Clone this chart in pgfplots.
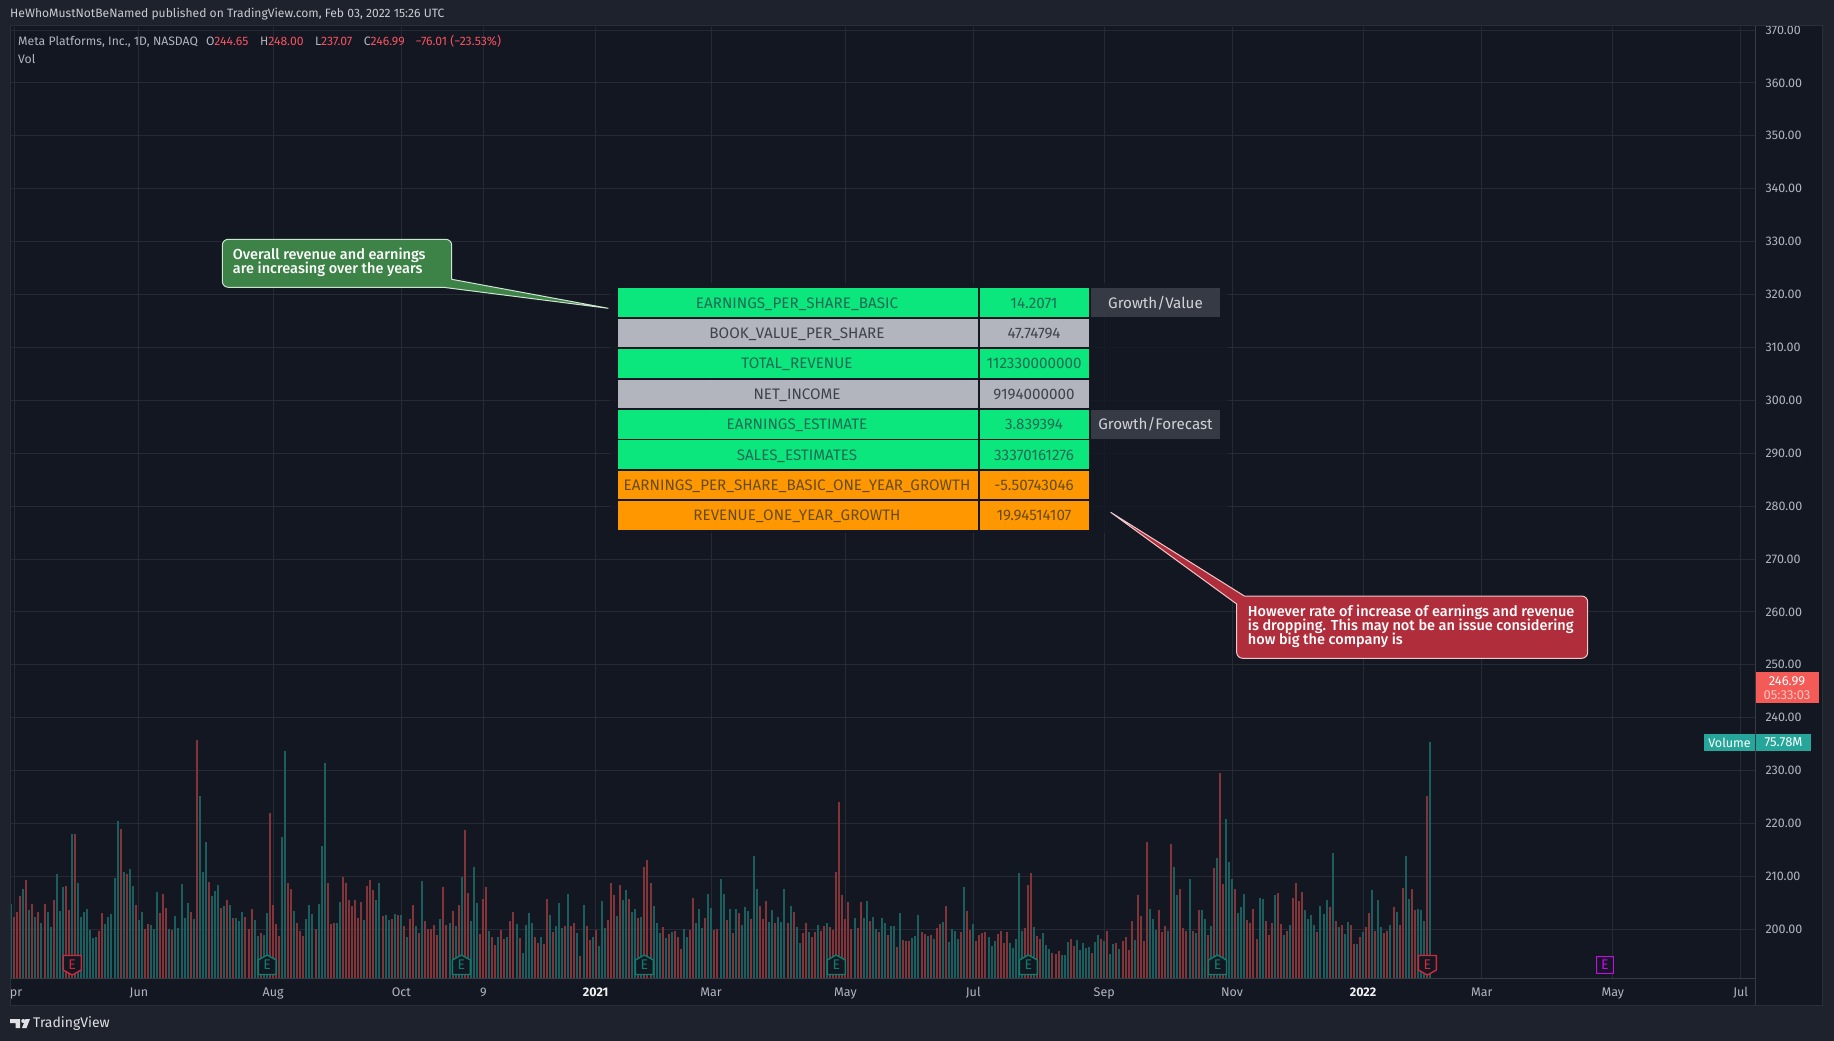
\documentclass[border=0pt]{standalone}
\usepackage{fontspec}
\setmainfont{Fira Sans}
\newfontfamily\fm{Fira Sans Medium}
\usepackage{pgfplots}
\usepackage{pgfplotstable}
\pgfplotsset{compat=1.18}
\definecolor{outer}{HTML}{1E222D}
\definecolor{pane}{HTML}{131722}
\definecolor{gridc}{HTML}{262A35}
\definecolor{border}{HTML}{2A2E39}
\definecolor{lab}{HTML}{B2B5BE}
\definecolor{redbar}{HTML}{813539}
\definecolor{tealbar}{HTML}{1C5E5E}
\definecolor{eg}{HTML}{0A7F6E}
\definecolor{er}{HTML}{D0283A}
\definecolor{em}{HTML}{D500F9}
\definecolor{cg}{HTML}{0BE67D}
\definecolor{cs}{HTML}{B2B5BE}
\definecolor{co}{HTML}{FF9800}
\definecolor{tg}{HTML}{1F6A52}
\definecolor{ts}{HTML}{40424A}
\definecolor{to}{HTML}{664C14}
\definecolor{lr}{HTML}{F7525F}
\definecolor{cellg}{HTML}{363A45}
\definecolor{gbox}{HTML}{3D8246}
\definecolor{gedge}{HTML}{CDE4D0}
\definecolor{rbox}{HTML}{B02E3C}
\definecolor{redge}{HTML}{EFC8CC}
\definecolor{plabel}{HTML}{F45B57}
\definecolor{vlabel}{HTML}{26A69A}
\pgfdeclareplotmark{eup}{%
  \pgfsetlinewidth{1.4pt}\pgfsetroundjoin
  \pgfpathmoveto{\pgfpoint{-9pt}{-9.5pt}}\pgfpathlineto{\pgfpoint{9pt}{-9.5pt}}%
  \pgfpathlineto{\pgfpoint{9pt}{5pt}}\pgfpathlineto{\pgfpoint{0pt}{10pt}}%
  \pgfpathlineto{\pgfpoint{-9pt}{5pt}}\pgfpathclose\pgfusepath{fill,stroke}%
  \pgftext{\color{eg}\fontsize{14}{14}\selectfont E}}
\pgfdeclareplotmark{edown}{%
  \pgfsetlinewidth{1.4pt}\pgfsetroundjoin
  \pgfpathmoveto{\pgfpoint{-9pt}{9.5pt}}\pgfpathlineto{\pgfpoint{9pt}{9.5pt}}%
  \pgfpathlineto{\pgfpoint{9pt}{-5pt}}\pgfpathlineto{\pgfpoint{0pt}{-10pt}}%
  \pgfpathlineto{\pgfpoint{-9pt}{-5pt}}\pgfpathclose\pgfusepath{fill,stroke}%
  \pgftext{\color{er}\fontsize{14}{14}\selectfont E}}
\pgfdeclareplotmark{esq}{%
  \pgfsetlinewidth{1.4pt}\pgfsetroundjoin
  \pgfpathrectangle{\pgfpoint{-8.5pt}{-8.5pt}}{\pgfpoint{17pt}{17pt}}\pgfusepath{fill,stroke}%
  \pgftext{\color{em}\fontsize{14}{14}\selectfont E}}
\pgfplotstableread[row sep=crcr]{
r t\\
nan 23.8\\ 19.6 nan\\ 21.2 nan\\ 26.3 nan\\ nan 28.6\\ 31.5 nan\\ nan 21.8\\ 23.8 nan\\ nan 19.6\\ 21.2 nan\\
nan 17.7\\ 23.8 nan\\ nan 21.2\\ nan 16.4\\ 25.0 nan\\ nan 33.4\\ nan 21.5\\ nan 29.2\\ 29.5 nan\\ 21.8 nan\\
nan 46.2\\ 46.2 nan\\ nan 30.5\\ nan 19.6\\ nan 21.2\\ nan 22.1\\ nan 15.4\\ nan 12.8\\ nan 13.2\\ 15.1 nan\\
20.9 nan\\ nan 17.3\\ nan 19.6\\ nan 20.5\\ nan 32.1\\ nan 50.4\\ 47.8 nan\\ nan 34.0\\ 33.4 nan\\ nan 35.0\\
nan 29.5\\ 23.4 nan\\ nan 18.6\\ nan 21.2\\ 15.7 nan\\ 17.3 nan\\ nan 17.0\\ nan 15.7\\ nan 27.6\\ 20.9 nan\\
27.0 nan\\ 22.5 nan\\ nan 15.7\\ 15.4 nan\\ nan 19.9\\ nan 16.1\\ nan 30.2\\ nan 19.3\\ nan 24.1\\ 21.2 nan\\
nan 18.9\\ 76.4 nan\\ nan 58.4\\ nan 34.0\\ nan 43.7\\ 30.8 nan\\ nan 26.3\\ nan 27.9\\ nan 29.9\\ 22.5 nan\\
nan 23.1\\ 25.0 nan\\ nan 23.4\\ 19.3 nan\\ nan 19.3\\ nan 18.3\\ nan 21.2\\ 19.6 nan\\ 15.7 nan\\ 22.1 nan\\
nan 18.6\\ nan 13.5\\ 14.4 nan\\ nan 13.8\\ nan 20.9\\ 53.0 nan\\ 23.4 nan\\ 17.3 nan\\ 13.5 nan\\ nan 45.3\\
nan 72.9\\ 30.5 nan\\ 28.6 nan\\ nan 21.5\\ 17.7 nan\\ 15.1 nan\\ 13.5 nan\\ nan 18.9\\ nan 23.4\\ nan 20.5\\
15.7 nan\\ nan 23.8\\ nan 42.4\\ nan 69.0\\ 30.5 nan\\ 17.3 nan\\ 17.7 nan\\ nan 17.7\\ nan 24.4\\ 32.4 nan\\
30.5 nan\\ 25.0 nan\\ 23.1 nan\\ 25.0 nan\\ 19.3 nan\\ 24.4 nan\\ nan 18.6\\ 29.5 nan\\ 31.5 nan\\ 28.2 nan\\
nan 25.0\\ nan 30.5\\ 19.9 nan\\ nan 20.2\\ nan 18.6\\ 18.9 nan\\ nan 20.5\\ 20.2 nan\\ nan 20.2\\ 16.7 nan\\
nan 13.2\\ 18.9 nan\\ 23.4 nan\\ nan 16.7\\ 14.4 nan\\ nan 31.1\\ 18.3 nan\\ 15.7 nan\\ 15.7 nan\\ 17.0 nan\\
13.8 nan\\ nan 18.9\\ 29.2 nan\\ 17.0 nan\\ nan 17.7\\ 21.5 nan\\ nan 16.7\\ 23.4 nan\\ nan 32.4\\ 47.5 nan\\
27.3 nan\\ nan 18.3\\ nan 35.6\\ nan 24.1\\ 14.1 nan\\ 25.4 nan\\ 29.2 nan\\ nan 15.1\\ 13.2 nan\\ 10.6 nan\\
nan 13.2\\
15.4 nan\\ 12.5 nan\\ nan 13.2\\ 18.3 nan\\ 21.2 nan\\ nan 17.3\\ 12.8 nan\\ nan 8.0\\ nan 17.0\\ nan 20.9\\
nan 17.7\\ 13.2 nan\\ 11.2 nan\\ nan 13.2\\ 10.9 nan\\ 25.4 nan\\ nan 20.2\\ 14.8 nan\\ nan 16.7\\ nan 24.1\\
nan 16.1\\ 16.7 nan\\ nan 27.0\\ 16.7 nan\\ 17.7 nan\\ nan 14.4\\ 7.1 nan\\ nan 23.4\\ 16.7 nan\\ 12.2 nan\\
nan 13.2\\ 15.4 nan\\ nan 10.3\\ nan 24.7\\ nan 16.1\\ 18.6 nan\\ 30.5 nan\\ 26.6 nan\\ nan 19.9\\ 29.9 nan\\
nan 25.0\\ nan 28.2\\ 25.4 nan\\ nan 21.2\\ nan 22.1\\ 19.3 nan\\ nan 19.6\\ 35.6 nan\\ 37.9 nan\\ 30.5 nan\\
nan 23.1\\ nan 17.7\\ nan 14.4\\ 16.4 nan\\ nan 12.8\\ 14.1 nan\\ nan 14.8\\ 15.1 nan\\ 13.2 nan\\ 9.3 nan\\
nan 15.7\\ nan 13.2\\ 15.4 nan\\ 25.7 nan\\ nan 17.7\\ nan 22.1\\ nan 16.1\\ 19.3 nan\\ nan 27.0\\ nan 22.5\\
15.4 nan\\ 15.7 nan\\ nan 31.8\\ nan 27.0\\ 18.6 nan\\ nan 22.1\\ 14.4 nan\\ nan 22.1\\ 20.9 nan\\ nan 17.0\\
nan 22.8\\ nan 21.5\\ 18.9 nan\\ nan 39.2\\ nan 28.6\\ 23.1 nan\\ 18.9 nan\\ 24.7 nan\\ nan 18.0\\ nan 21.8\\
17.7 nan\\ nan 19.6\\ nan 18.0\\ nan 28.6\\ 17.7 nan\\ nan 23.1\\ 21.2 nan\\ nan 16.4\\ nan 11.2\\ 14.4 nan\\
17.7 nan\\ nan 14.8\\ 13.2 nan\\ 14.8 nan\\ nan 17.0\\ 15.1 nan\\ 16.7 nan\\ nan 17.7\\ 16.4 nan\\ 15.4 nan\\
34.0 nan\\ 56.5 nan\\ 26.6 nan\\ 18.9 nan\\ 24.4 nan\\ 15.7 nan\\ nan 19.3\\ 16.1 nan\\ 24.4 nan\\ nan 19.3\\
nan 24.7\\ 18.3 nan\\ nan 19.6\\ nan 15.7\\ 14.8 nan\\ nan 19.3\\ nan 17.7\\ 13.8 nan\\ nan 16.7\\ nan 16.7\\
10.0 nan\\ nan 20.9\\ 12.2 nan\\ 11.9 nan\\ 11.9 nan\\ nan 12.8\\ nan 13.5\\ nan 20.2\\ 14.8 nan\\ 14.1 nan\\
nan 13.5\\ 13.8 nan\\ nan 12.5\\ 16.1 nan\\ 17.3 nan\\ nan 18.0\\ 23.1 nan\\ nan 11.6\\ nan 15.7\\ nan 15.1\\
nan 12.5\\ 14.8 nan\\ nan 29.2\\ 21.5 nan\\ 15.4 nan\\ nan 17.3\\ 11.9 nan\\ 13.8 nan\\ 14.4 nan\\ 14.8 nan\\
nan 13.2\\ nan 10.3\\ nan 11.9\\ 14.1 nan\\
15.1 nan\\ 11.2 nan\\ 14.8 nan\\ nan 11.2\\ nan 9.6\\ nan 12.5\\ nan 33.7\\ nan 15.1\\ 16.1 nan\\ 29.9 nan\\
33.7 nan\\ nan 16.4\\ 13.5 nan\\ 12.5 nan\\ nan 14.4\\ nan 10.6\\ nan 9.3\\ 8.0 nan\\ 7.7 nan\\ 8.7 nan\\
nan 7.4\\ nan 7.4\\ nan 11.6\\ 12.5 nan\\ 10.3 nan\\ nan 12.2\\ nan 9.0\\ nan 11.2\\ nan 9.6\\ nan 10.0\\
8.0 nan\\ nan 11.6\\ nan 13.8\\ 12.5 nan\\ nan 11.9\\ 15.1 nan\\ nan 7.7\\ nan 10.9\\ 11.2 nan\\ nan 9.3\\
11.9 nan\\ 13.2 nan\\ 9.0 nan\\ 18.3 nan\\ nan 12.2\\ 26.6 nan\\ 19.9 nan\\ 11.9 nan\\ 43.7 nan\\ nan 22.1\\
nan 18.9\\ nan 15.4\\ 21.8 nan\\ 14.8 nan\\ 16.7 nan\\ nan 15.1\\ 43.0 nan\\ nan 35.6\\ nan 26.6\\ 28.6 nan\\
16.1 nan\\ 15.1 nan\\ nan 31.8\\ 15.1 nan\\ nan 14.4\\ 21.8 nan\\ nan 21.8\\ nan 18.9\\ 13.8 nan\\ nan 16.7\\
35.3 nan\\ nan 38.5\\ 65.8 nan\\ 30.2 nan\\ nan 51.0\\ nan 37.2\\ nan 31.8\\ 28.6 nan\\ nan 20.9\\ nan 22.8\\
nan 27.0\\ 18.6 nan\\ 17.7 nan\\ 22.1 nan\\ 12.5 nan\\ nan 25.7\\ nan 25.4\\ 18.3 nan\\ 13.8 nan\\ 17.7 nan\\
nan 26.6\\ 27.3 nan\\ 17.3 nan\\ nan 13.8\\ 15.1 nan\\ nan 17.0\\ 25.7 nan\\ 30.5 nan\\ 24.7 nan\\ 27.6 nan\\
nan 21.8\\ nan 18.9\\ nan 20.2\\ nan 17.0\\ 14.8 nan\\ nan 23.1\\ nan 20.5\\ nan 25.0\\ 22.8 nan\\ nan 40.1\\
18.3 nan\\ nan 16.4\\ 17.0 nan\\ nan 14.1\\ nan 18.0\\ 17.0 nan\\ 10.9 nan\\ nan 10.9\\ 13.2 nan\\ nan 14.8\\
16.4 nan\\ 20.9 nan\\ nan 28.2\\ 15.1 nan\\ nan 25.0\\ nan 16.4\\ 14.4 nan\\ 15.1 nan\\ nan 17.0\\ 22.8 nan\\
nan 21.2\\ 17.0 nan\\ 28.9 nan\\ nan 39.2\\ nan 25.4\\ 28.6 nan\\ 21.8 nan\\ nan 22.1\\ nan 21.8\\ nan 18.3\\
58.4 nan\\ nan 75.78\\
}\voldata
\newcommand\cell[7]{% x0,x1,y0,fill,text,textcolor,cx
  \fill[#4] (#1,#3) rectangle (#2,#3+28.6);
  \node[text=#6,inner sep=0pt,anchor=base,font=\fontsize{15.2}{16}\selectfont] at (#7,#3+19.8) {#5};}
\begin{document}
\begin{tikzpicture}[x=1pt,y=-1pt]
\path[use as bounding box,fill=outer] (0,0) rectangle (1834,1041);
\fill[pane] (10,26) rectangle (1822,1005);
% price pane
\begin{axis}[at={(10pt,-978pt)},anchor=south west,scale only axis,width=1745pt,height=951pt,
  xmin=-0.33,xmax=572.7,ymin=190.79,ymax=370.57,
  axis line style={draw=none},major tick length=0pt,
  grid=major,major grid style={draw=gridc,line width=1pt},
  ytick={200,210,...,370},yticklabel pos=right,
  /pgf/number format/assume math mode=true,
  /pgf/number format/fixed,/pgf/number format/fixed zerofill,/pgf/number format/precision=2,
  /pgf/number format/1000 sep={},
  yticklabel style={font=\fontsize{12.5}{14}\selectfont,text=lab,anchor=west,xshift=7pt},
  xtick={1,42,86.1,128.2,155.1,192,229.9,274,316,359,401,444,483,526,568},
  xticklabels={\hspace{4pt}pr,Jun,Aug,Oct,9,{\textcolor{white!82!lab}{\bfseries 2021}},Mar,May,Jul,Sep,Nov,{\textcolor{white!82!lab}{\bfseries 2022}},Mar,May,Jul},
  xticklabel style={font=\fontsize{12.5}{14}\selectfont,text=lab,anchor=base,yshift=-18pt},
]
\addplot[draw=none,forget plot] coordinates {(0,200)(10,210)};
\end{axis}
% volume pane
\begin{axis}[at={(10pt,-978pt)},anchor=south west,scale only axis,width=1745pt,height=951pt,
  xmin=-0.33,xmax=572.7,ymin=0,ymax=305.3,hide axis,clip=true]
\addplot[ycomb,draw=redbar,line width=2pt,mark=none] table[x expr=\coordindex,y=r]{\voldata};
\addplot[ycomb,draw=tealbar,line width=2pt,mark=none] table[x expr=\coordindex,y=t]{\voldata};
\addplot[only marks,mark=eup,mark options={draw=eg,fill=pane}] coordinates {(84.1,4.17)(147.9,4.17)(208,4.17)(271,4.17)(334.1,4.17)(396.2,4.17)};
\addplot[only marks,mark=edown,mark options={draw=er,fill=pane}] coordinates {(20.1,4.17)(465.1,4.17)};
\addplot[only marks,mark=esq,mark options={draw=em,fill=pane}] coordinates {(523.4,4.17)};
\end{axis}
% frame lines
\draw[border,line width=1pt] (10,26) rectangle (1822,1005);
\draw[cellg,line width=1pt] (10,978) -- (1755.5,978);
\draw[cellg,line width=1pt] (1755.5,26) -- (1755.5,1005);
% header
\node[anchor=west,inner sep=0pt,text=lab!70!white,font=\fontsize{12.1}{14}\selectfont] at (10,14.5) {HeWhoMustNotBeNamed published on TradingView.com, Feb 03, 2022 15:26 UTC};
\node[anchor=west,inner sep=0pt,text=lab,font=\fontsize{12.2}{14}\selectfont] at (18,41.5) {Meta Platforms, Inc., 1D, NASDAQ\hspace{8pt}O\textcolor{lr}{244.65}\hspace{11.5pt}H\textcolor{lr}{248.00}\hspace{11.5pt}L\textcolor{lr}{237.07}\hspace{11.5pt}C\textcolor{lr}{246.99}\hspace{11pt}\textcolor{lr}{−76.01 (−23.53\%)}};
\node[anchor=west,inner sep=0pt,text=lab,font=\fontsize{12.2}{14}\selectfont] at (18,58.5) {Vol};
% table
\fill[pane,opacity=.75] (610,283) rectangle (1228,533);
\foreach \r/\a/\b/\f/\t in {
 0/{EARNINGS\_PER\_SHARE\_BASIC}/{14.2071}/cg/tg,
 1/{BOOK\_VALUE\_PER\_SHARE}/{47.74794}/cs/ts,
 2/{TOTAL\_REVENUE}/{112330000000}/cg/tg,
 3/{NET\_INCOME}/{9194000000}/cs/ts,
 4/{EARNINGS\_ESTIMATE}/{3.839394}/cg/tg,
 5/{SALES\_ESTIMATES}/{33370161276}/cg/tg,
 6/{EARNINGS\_PER\_SHARE\_BASIC\_ONE\_YEAR\_GROWTH}/{-5.50743046}/co/to,
 7/{REVENUE\_ONE\_YEAR\_GROWTH}/{19.94514107}/co/to}{
  \pgfmathsetmacro\yy{288.3+30.4*\r}
  \cell{617.5}{977.5}{\yy}{\f}{\a}{\t}{797}
  \cell{980}{1089}{\yy}{\f}{\b}{\t}{1034}
}
\fill[cellg] (1091,288.3) rectangle (1220,316.9);
\fill[cellg] (1091,409.9) rectangle (1220,438.5);
\node[text=lab!60!white,inner sep=0pt,anchor=base,font=\fontsize{15.2}{16}\selectfont] at (1155.5,308.1) {Growth/Value};
\node[text=lab!60!white,inner sep=0pt,anchor=base,font=\fontsize{15.2}{16}\selectfont] at (1155.5,429.7) {Growth/Forecast};
% callouts
\filldraw[fill=gbox,draw=gedge,line width=1pt]
  (451.7,279.3) -- (608.3,308.3) -- (443.3,287.3) [rounded corners=6pt] -- (222.3,287.3) -- (222.3,239.3) -- (451.7,239.3) -- (451.7,279.3);
\node[anchor=west,inner sep=0pt,text=white,font=\fm\fontsize{14.5}{14}\selectfont] at (232.7,255.3) {Overall revenue and earnings};
\node[anchor=west,inner sep=0pt,text=white,font=\fm\fontsize{14.5}{14}\selectfont] at (232.7,269.3) {are increasing over the years};
\filldraw[fill=rbox,draw=redge,line width=1pt]
  (1244.3,596) -- (1110.7,512.3) -- (1236.7,604) [rounded corners=6pt] -- (1236.7,658.3) -- (1587.7,658.3) -- (1587.7,596) -- (1244.3,596);
\node[anchor=west,inner sep=0pt,text=white,font=\fm\fontsize{14.5}{14}\selectfont] at (1247.7,612.3) {However rate of increase of earnings and revenue};
\node[anchor=west,inner sep=0pt,text=white,font=\fm\fontsize{14.5}{14}\selectfont] at (1247.7,626.5) {is dropping. This may not be an issue considering};
\node[anchor=west,inner sep=0pt,text=white,font=\fm\fontsize{14.5}{14}\selectfont] at (1247.7,640.7) {how big the company is};
% price labels
\fill[plabel] (1756,672) rectangle (1818.7,702.7);
\node[inner sep=0pt,text=white,font=\fontsize{13}{14}\selectfont] at (1787,681) {246.99};
\node[inner sep=0pt,text=white!65!plabel,font=\fontsize{13}{14}\selectfont] at (1787,695) {05:33:03};
\fill[vlabel] (1704,734) rectangle (1755,750.7);
\fill[vlabel] (1756,734) rectangle (1811,750.7);
\node[inner sep=0pt,text=white,font=\fontsize{12.5}{14}\selectfont] at (1729.5,742.5) {Volume};
\node[inner sep=0pt,text=white,font=\fontsize{13}{14}\selectfont] at (1783.5,742.5) {75.78M};
% logo
\fill[lab!40!white] (10,1019) -- (20,1019) -- (20,1028) -- (15.5,1028) -- (15.5,1023) -- (10,1023) -- cycle;
\fill[lab!40!white] (23.2,1021) circle[radius=2];
\fill[lab!40!white] (22,1028) -- (25.5,1019) -- (30,1019) -- (26.5,1028) -- cycle;
\node[anchor=west,inner sep=0pt,text=lab!40!white,font=\fontsize{14}{16}\selectfont] at (33,1023.5) {TradingView};
\end{tikzpicture}
\end{document}
